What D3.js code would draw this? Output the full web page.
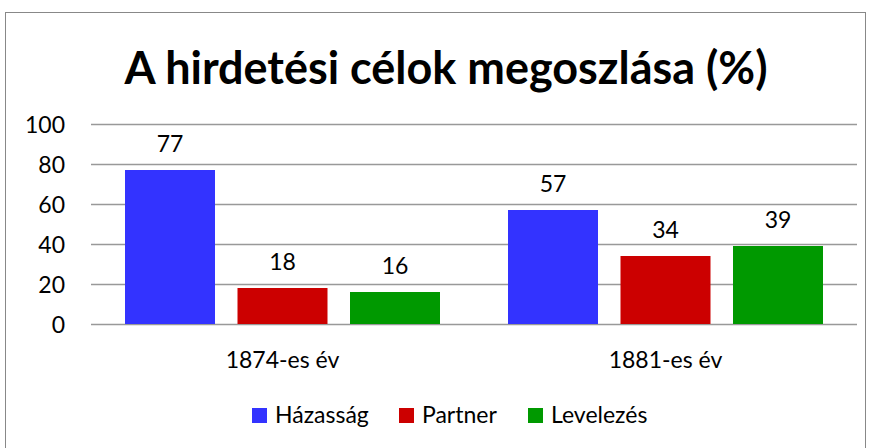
<!DOCTYPE html>
<meta charset="utf-8">
<style>
    body { margin: 0; background: #fff; }
    text { font-family: Lato, "Open Sans", sans-serif; fill: #000; }
    .title { font-weight: bold; font-size: 45px; }
    .tick text, .label, .cat, .legend text { font-size: 23px; }
    .grid line { stroke: #999; stroke-width: 1.5px; }
    .grid path { stroke-width: 0; }
</style>
<body>
    <svg width="870" height="448"></svg>
</body>
<script src="https://d3js.org/d3.v7.min.js"></script>
<script>

    var categories = ["1874-es év", "1881-es év"];
    var seriesNames = ["Házasság", "Partner", "Levelezés"];
    var seriesColors = ["#3333ff", "#cc0000", "#009900"];
    var hazassag = [77, 57];
    var partner = [18, 34];
    var levelezes = [16, 39];
    var yTicks = [0, 20, 40, 60, 80, 100];

    var values = [hazassag, partner, levelezes];

    var svg = d3.select("svg");

    // outer frame
    svg.append("rect")
            .attr("x", 5.5).attr("y", 12.5)
            .attr("width", 860).attr("height", 450)
            .attr("fill", "none").attr("stroke", "#888");

    var plotLeft = 91, plotRight = 857, plotTop = 124, plotBottom = 324;

    var x0 = d3.scaleBand().domain(categories).range([plotLeft, plotRight]);
    var x1 = d3.scaleBand().domain(seriesNames).range([34, 383 - 34]).paddingInner(0.2);
    var y = d3.scaleLinear().domain([0, 100]).range([plotBottom, plotTop]);

    // title
    var title = svg.append("text")
            .attr("class", "title")
            .attr("x", 446).attr("y", 84)
            .attr("text-anchor", "middle")
            .text("A hirdetési célok megoszlása (%)");
    if (title.node().getComputedTextLength() > 643) {
        title.attr("textLength", 643).attr("lengthAdjust", "spacingAndGlyphs");
    }

    // gridlines + y labels
    var grid = svg.append("g")
            .attr("class", "grid")
            .attr("transform", "translate(" + plotLeft + ",0)")
            .call(d3.axisLeft(y).tickValues(yTicks).tickSize(-(plotRight - plotLeft)).tickPadding(26));
    grid.selectAll(".tick text").attr("dy", "0.36em");

    // bars
    var groups = svg.selectAll(".group")
            .data(categories)
            .enter().append("g")
            .attr("class", "group")
            .attr("transform", function (d) { return "translate(" + x0(d) + ",0)"; });

    function rows(c, ci) {
        return seriesNames.map(function (s, si) { return {s: s, i: si, v: values[si][ci]}; });
    }

    groups.selectAll("rect")
            .data(rows)
            .enter().append("rect")
            .attr("x", function (d) { return x1(d.s); })
            .attr("y", function (d) { return y(d.v); })
            .attr("width", x1.bandwidth())
            .attr("height", function (d) { return y(0) - y(d.v); })
            .attr("fill", function (d) { return seriesColors[d.i]; });

    groups.selectAll(".label")
            .data(rows)
            .enter().append("text")
            .attr("class", "label")
            .attr("text-anchor", "middle")
            .attr("x", function (d) { return x1(d.s) + x1.bandwidth() / 2; })
            .attr("y", function (d) { return y(d.v) - 18; })
            .text(function (d) { return d.v; });

    // category labels
    svg.selectAll(".cat")
            .data(categories)
            .enter().append("text")
            .attr("class", "cat")
            .attr("text-anchor", "middle")
            .attr("x", function (d) { return x0(d) + x0.bandwidth() / 2; })
            .attr("y", 368)
            .text(function (d) { return d; });

    // legend
    var legendX = [252, 399, 528];
    var legend = svg.selectAll(".legend")
            .data(seriesNames)
            .enter().append("g")
            .attr("class", "legend")
            .attr("transform", function (d, i) { return "translate(" + legendX[i] + ",408)"; });
    legend.append("rect")
            .attr("width", 15).attr("height", 15)
            .attr("fill", function (d, i) { return seriesColors[i]; });
    legend.append("text")
            .attr("x", 23).attr("y", 15)
            .text(function (d) { return d; });
</script>
